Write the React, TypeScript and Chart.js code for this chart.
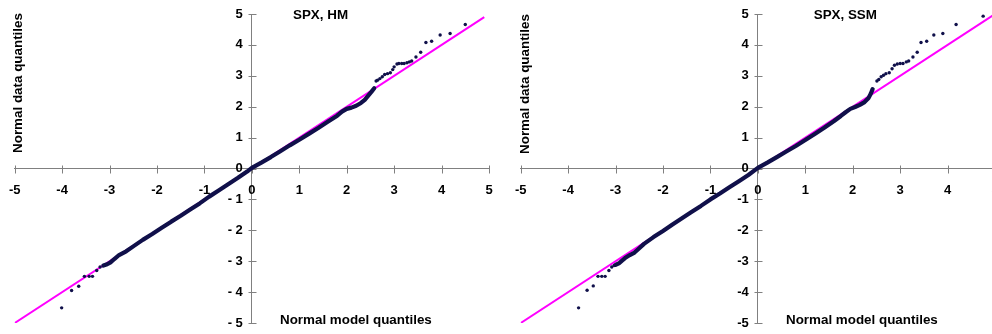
import React, { useEffect, useRef } from "react";
import { Chart, registerables } from "chart.js";

Chart.register(...registerables);

// ---- data ----
const axisTicks = [-5, -4, -3, -2, -1, 0, 1, 2, 3, 4, 5];

// Left panel: SPX, HM
const hmBandX = [-3.13, -3.05, -2.98, -2.9, -2.8, -2.65, -2.5, -2.3, -2.1, -1.9, -1.7, -1.5, -1.3, -1.1, -0.9, -0.7, -0.5, -0.3, -0.1, 0.0, 0.2, 0.4, 0.6, 0.8, 1.0, 1.2, 1.4, 1.6, 1.8, 1.9, 2.0, 2.1, 2.2, 2.3, 2.38, 2.45, 2.52, 2.58];
const hmBandY = [-3.14, -3.1, -3.04, -2.93, -2.8, -2.68, -2.52, -2.31, -2.12, -1.92, -1.72, -1.53, -1.33, -1.13, -0.91, -0.71, -0.51, -0.31, -0.1, 0.02, 0.19, 0.37, 0.56, 0.75, 0.93, 1.12, 1.31, 1.51, 1.71, 1.84, 1.93, 1.97, 2.03, 2.12, 2.22, 2.35, 2.48, 2.6];
const hmPointsX = [-4.01, -3.8, -3.65, -3.53, -3.43, -3.36, -3.27, -3.2, 2.62, 2.65, 2.7, 2.75, 2.8, 2.86, 2.92, 2.97, 3.0, 3.06, 3.1, 3.16, 3.21, 3.27, 3.32, 3.37, 3.46, 3.56, 3.67, 3.79, 3.97, 4.18, 4.5];
const hmPointsY = [-4.51, -3.95, -3.81, -3.49, -3.49, -3.49, -3.3, -3.19, 2.83, 2.86, 2.91, 2.97, 3.04, 3.07, 3.1, 3.2, 3.29, 3.38, 3.4, 3.4, 3.4, 3.42, 3.45, 3.48, 3.61, 3.76, 4.08, 4.12, 4.32, 4.37, 4.66];
const hmRefX = [-5, 4.9];
const hmRefY = [-5, 4.9];

// Right panel: SPX, SSM
const ssmBandX = [-3.0, -2.92, -2.87, -2.8, -2.7, -2.6, -2.5, -2.4, -2.2, -2.0, -1.8, -1.6, -1.4, -1.2, -1.0, -0.8, -0.6, -0.4, -0.2, 0.0, 0.2, 0.4, 0.6, 0.8, 1.0, 1.2, 1.4, 1.6, 1.75, 1.85, 1.95, 2.05, 2.15, 2.25, 2.33, 2.38, 2.42];
const ssmBandY = [-3.12, -3.06, -2.99, -2.9, -2.8, -2.72, -2.58, -2.44, -2.22, -2.02, -1.81, -1.61, -1.41, -1.21, -1.0, -0.81, -0.61, -0.41, -0.21, 0.02, 0.19, 0.37, 0.55, 0.73, 0.92, 1.12, 1.32, 1.53, 1.7, 1.82, 1.93, 1.99, 2.06, 2.15, 2.27, 2.42, 2.57];
const ssmPointsX = [-3.78, -3.6, -3.47, -3.37, -3.29, -3.22, -3.14, -3.08, -3.03, 2.51, 2.55, 2.6, 2.65, 2.7, 2.77, 2.83, 2.88, 2.94, 3.0, 3.06, 3.13, 3.18, 3.27, 3.36, 3.44, 3.56, 3.71, 3.9, 4.18, 4.75];
const ssmPointsY = [-4.51, -3.94, -3.8, -3.49, -3.49, -3.49, -3.3, -3.19, -3.14, 2.83, 2.88, 2.97, 3.02, 3.07, 3.1, 3.23, 3.34, 3.38, 3.4, 3.4, 3.45, 3.48, 3.61, 3.76, 4.08, 4.12, 4.32, 4.37, 4.66, 4.93];
const ssmRefX = [-5, 5];
const ssmRefY = [-5, 5];

const xTitleText = "Normal model quantiles";
const yTitleText = "Normal data quantiles";

// ---- styling ----
const NAVY = "#10104a";
const MAGENTA = "#ff00ff";
const AXIS = "#808080";
const FONT = '"Liberation Sans", Arial, Helvetica, sans-serif';

const toXY = (xs: number[], ys: number[]) => xs.map((x, i) => ({ x, y: ys[i] }));

const panelText = {
  id: "panelText",
  beforeDatasetsDraw(chart: any) {
    const ctx = chart.ctx;
    const xs = chart.scales.x;
    const ys = chart.scales.y;
    const x0 = Math.round(xs.getPixelForValue(0)) + 0.5;
    const y0 = Math.round(ys.getPixelForValue(0)) + 0.5;
    ctx.save();
    ctx.strokeStyle = AXIS;
    ctx.lineWidth = 1;
    ctx.beginPath();
    for (const v of axisTicks) {
      const px = Math.round(xs.getPixelForValue(v)) + 0.5;
      ctx.moveTo(px, y0 - 4);
      ctx.lineTo(px, y0 + 4);
      const py = Math.round(ys.getPixelForValue(v)) + 0.5;
      ctx.moveTo(x0 - 4, py);
      ctx.lineTo(x0 + 4, py);
    }
    ctx.stroke();
    ctx.restore();
  },
  afterDraw(chart: any, _args: any, opts: any) {
    const ctx = chart.ctx;
    ctx.save();
    ctx.fillStyle = "#000";
    ctx.font = `bold 13.4px ${FONT}`;
    ctx.textBaseline = "middle";
    ctx.textAlign = "left";
    ctx.fillText(opts.title, opts.titleX, opts.titleY);
    ctx.fillText(opts.xTitle, opts.xTitleX, opts.xTitleY);
    ctx.translate(opts.yTitleX, opts.yTitleY);
    ctx.rotate(-Math.PI / 2);
    ctx.textAlign = "center";
    ctx.fillText(opts.yTitle, 0, 0);
    ctx.restore();
  },
};

type PanelProps = {
  left: number;
  bandX: number[];
  bandY: number[];
  pointsX: number[];
  pointsY: number[];
  refX: number[];
  refY: number[];
  spacedMinus: boolean;
  text: any;
};

const setTicks = (s: any) => {
  s.ticks = axisTicks.map((v) => ({ value: v }));
};

function Panel(p: PanelProps) {
  const ref = useRef<HTMLCanvasElement>(null);
  useEffect(() => {
    const fmt = (v: number) => (v < 0 && p.spacedMinus ? "- " + Math.abs(v) : String(v));
    const tickFont = { family: FONT, size: 13, weight: "bold" as const };
    const chart = new Chart(ref.current as HTMLCanvasElement, {
      type: "scatter",
      data: {
        datasets: [
          {
            label: "tail",
            data: toXY(p.pointsX, p.pointsY),
            pointRadius: 1.7,
            pointBackgroundColor: NAVY,
            pointBorderWidth: 0,
            showLine: false,
          },
          {
            label: "band",
            data: toXY(p.bandX, p.bandY),
            showLine: true,
            pointRadius: 0,
            borderColor: NAVY,
            borderWidth: 4.2,
            borderCapStyle: "round",
            borderJoinStyle: "round",
          },
          {
            label: "reference",
            data: toXY(p.refX, p.refY),
            showLine: true,
            pointRadius: 0,
            borderColor: MAGENTA,
            borderWidth: 2,
          },
        ],
      },
      options: {
        animation: false,
        responsive: false,
        devicePixelRatio: 1,
        layout: { padding: { left: 14.7, right: 7, top: 14, bottom: 11 } },
        plugins: {
          legend: { display: false },
          tooltip: { enabled: false },
          panelText: p.text,
        } as any,
        scales: {
          // axis lines crossing at the origin
          x: {
            type: "linear",
            min: -5,
            max: 5,
            position: { y: 0 } as any,
            afterBuildTicks: setTicks,
            ticks: { display: false },
            grid: { display: false },
            border: { display: true, color: AXIS, width: 1 },
          },
          y: {
            type: "linear",
            min: -5,
            max: 5,
            position: { x: 0 } as any,
            afterBuildTicks: setTicks,
            ticks: { display: false },
            grid: { display: false },
            border: { display: true, color: AXIS, width: 1 },
          },
          // tick labels, placed just off the axis lines
          xLabels: {
            type: "linear",
            axis: "x",
            min: -5,
            max: 5,
            position: { y: -0.2 } as any,
            afterBuildTicks: setTicks,
            ticks: {
              callback: (v: any) => String(v),
              color: "#000",
              font: tickFont,
              padding: 0,
              maxRotation: 0,
              autoSkip: false,
            },
            grid: { display: false },
            border: { display: false },
          },
          yLabels: {
            type: "linear",
            axis: "y",
            min: -5,
            max: 5,
            position: { x: -0.19 } as any,
            afterBuildTicks: setTicks,
            ticks: {
              callback: (v: any) => fmt(Number(v)),
              color: "#000",
              font: tickFont,
              padding: 0,
              autoSkip: false,
            },
            grid: { display: false },
            border: { display: false },
          },
        },
      } as any,
      plugins: [panelText as any],
    });
    return () => chart.destroy();
  }, []);
  return (
    <div style={{ position: "absolute", left: p.left, top: 0, width: 496, height: 334 }}>
      <canvas ref={ref} width={496} height={334} style={{ display: "block", width: 496, height: 334 }} />
    </div>
  );
}

export default function App() {
  return (
    <div
      style={{
        position: "absolute",
        left: 0,
        top: 0,
        width: 992,
        height: 334,
        overflow: "hidden",
        background: "#fff",
      }}
    >
      <Panel
        left={0}
        bandX={hmBandX}
        bandY={hmBandY}
        pointsX={hmPointsX}
        pointsY={hmPointsY}
        refX={hmRefX}
        refY={hmRefY}
        spacedMinus={true}
        text={{
          title: "SPX, HM",
          titleX: 293,
          titleY: 15,
          xTitle: xTitleText,
          xTitleX: 280,
          xTitleY: 320.5,
          yTitle: yTitleText,
          yTitleX: 18.5,
          yTitleY: 83,
        }}
      />
      <Panel
        left={506}
        bandX={ssmBandX}
        bandY={ssmBandY}
        pointsX={ssmPointsX}
        pointsY={ssmPointsY}
        refX={ssmRefX}
        refY={ssmRefY}
        spacedMinus={false}
        text={{
          title: "SPX, SSM",
          titleX: 307.7,
          titleY: 15,
          xTitle: xTitleText,
          xTitleX: 280,
          xTitleY: 320,
          yTitle: yTitleText,
          yTitleX: 19.5,
          yTitleY: 84,
        }}
      />
    </div>
  );
}
